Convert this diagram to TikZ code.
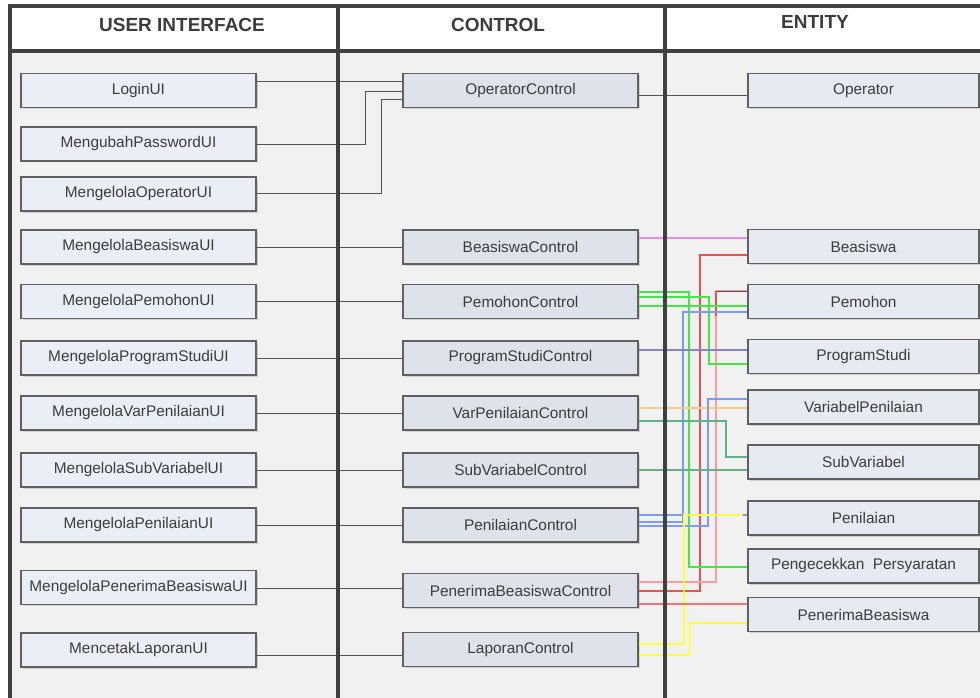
\documentclass[tikz,border=0pt]{standalone}
\usepackage{fontspec}
\setmainfont{Liberation Sans}
\usepackage{tikz}
\usepackage{xcolor}
\usetikzlibrary{shadows}

\definecolor{framegray}{HTML}{404040}
\definecolor{textgray}{HTML}{3C3C3C}
\definecolor{boxedge}{HTML}{606060}
\definecolor{uifill}{HTML}{EAEEF7}
\definecolor{ctrlfill}{HTML}{DEE2EA}
\definecolor{entfill}{HTML}{E6EAF2}
\definecolor{bodygray}{HTML}{F1F1F1}
\definecolor{linkpink}{HTML}{EE88EE}
\definecolor{linkred}{HTML}{EE5050}
\definecolor{linkrose}{HTML}{FF9C9C}
\definecolor{linkgreen}{HTML}{44E844}
\definecolor{linkslate}{HTML}{8484CC}
\definecolor{linkblue}{HTML}{7C9CF0}
\definecolor{linkorange}{HTML}{FFCC88}
\definecolor{linkteal}{HTML}{5CB488}
\definecolor{linkyellow}{HTML}{FFFF40}

\begin{document}
\begin{tikzpicture}[x=1pt,y=-1pt,
  classbox/.style={draw=boxedge, line width=1.1pt, minimum width=235pt, minimum height=34pt, inner sep=0pt,
    text=textgray, font=\fontsize{15.4}{17}\selectfont,
    drop shadow={shadow xshift=1.5pt, shadow yshift=-1.5pt, fill=gray!60, opacity=0.5}},
  uibox/.style={classbox, fill=uifill},
  ctrlbox/.style={classbox, fill=ctrlfill},
  entbox/.style={classbox, fill=entfill, minimum width=231pt},
  colhead/.style={text=textgray, font=\bfseries\fontsize{19}{22}\selectfont},
  link/.style={draw=framegray!90, line width=1pt},
  wire/.style={line width=1.3pt}]
\useasboundingbox (0,0) rectangle (980,698);
\fill[white] (0,0) rectangle (980,698);
\fill[bodygray] (10,51) rectangle (1000,720);

\node[colhead] (hdUI) at (182,25) {USER INTERFACE};
\node[colhead] (hdControl) at (498,25) {CONTROL};
\node[colhead] (hdEntity) at (815,22) {ENTITY};

\node[uibox] (uiLogin) at (138.5,90.5) {LoginUI};
\node[uibox] (uiPassword) at (138.5,144) {MengubahPasswordUI};
\node[uibox] (uiOperator) at (138.5,194) {MengelolaOperatorUI};
\node[uibox] (uiBeasiswa) at (138.5,247) {MengelolaBeasiswaUI};
\node[uibox] (uiPemohon) at (138.5,301.5) {MengelolaPemohonUI};
\node[uibox] (uiProdi) at (138.5,358) {MengelolaProgramStudiUI};
\node[uibox] (uiVar) at (138.5,413) {MengelolaVarPenilaianUI};
\node[uibox] (uiSub) at (138.5,470) {MengelolaSubVariabelUI};
\node[uibox] (uiPenilaian) at (138.5,525) {MengelolaPenilaianUI};
\node[uibox] (uiPenerima) at (138.5,587.5) {MengelolaPenerimaBeasiswaUI};
\node[uibox] (uiLaporan) at (138.5,650) {MencetakLaporanUI};

\node[ctrlbox] (ctlOperator) at (520.5,90.5) {OperatorControl};
\node[ctrlbox] (ctlBeasiswa) at (520.5,247) {BeasiswaControl};
\node[ctrlbox] (ctlPemohon) at (520.5,301.5) {PemohonControl};
\node[ctrlbox] (ctlProdi) at (520.5,358) {ProgramStudiControl};
\node[ctrlbox] (ctlVar) at (520.5,413) {VarPenilaianControl};
\node[ctrlbox] (ctlSub) at (520.5,470) {SubVariabelControl};
\node[ctrlbox] (ctlPenilaian) at (520.5,525) {PenilaianControl};
\node[ctrlbox] (ctlPenerima) at (520.5,590.5) {PenerimaBeasiswaControl};
\node[ctrlbox] (ctlLaporan) at (520.5,649.5) {LaporanControl};

\node[entbox] (entOperator) at (863.5,90.5) {Operator};
\node[entbox] (entBeasiswa) at (863.5,246.5) {Beasiswa};
\node[entbox] (entPemohon) at (863.5,301.5) {Pemohon};
\node[entbox] (entProdi) at (863.5,356.5) {ProgramStudi};
\node[entbox] (entVar) at (863.5,407) {VariabelPenilaian};
\node[entbox] (entSub) at (863.5,462) {SubVariabel};
\node[entbox] (entPenilaian) at (863.5,518) {Penilaian};
\node[entbox] (entCek) at (863.5,566) {Pengecekkan~~Persyaratan};
\node[entbox] (entPenerima) at (863.5,614.5) {PenerimaBeasiswa};

\draw[link] (uiLogin.east |- 0,82) -- (ctlOperator.west |- 0,82);
\draw[link] (uiPassword.east |- 0,145) -- (365,145) |- (ctlOperator.west |- 0,92);
\draw[link] (uiOperator.east |- 0,193) -- (381,193) |- (ctlOperator.west |- 0,100);
\draw[link] (uiBeasiswa) -- (ctlBeasiswa);
\draw[link] (uiPemohon) -- (ctlPemohon);
\draw[link] (uiProdi) -- (ctlProdi);
\draw[link] (uiVar) -- (ctlVar);
\draw[link] (uiSub) -- (ctlSub);
\draw[link] (uiPenilaian) -- (ctlPenilaian);
\draw[link] (uiPenerima.east |- 0,588) -- (ctlPenerima.west |- 0,588);
\draw[link] (uiLaporan.east |- 0,655) -- (ctlLaporan.west |- 0,655);
\draw[link] (ctlOperator.east |- 0,96) -- (entOperator.west |- 0,96);

\draw[wire, linkpink] (ctlBeasiswa.east |- 0,238) -- (entBeasiswa.west |- 0,238);
\draw[wire, linkred] (entBeasiswa.west |- 0,255) -| (700,591) -- (ctlPenerima.east |- 0,591);
\draw[wire, linkrose] (entPemohon.west |- 0,291) -| (716,582) -- (ctlPenerima.east |- 0,582);
\draw[link] (entPemohon.west |- 0,291) -- (716,291);
\draw[wire, linkred] (716,291) -- (716,316);
\draw[wire, linkgreen] (ctlPemohon.east |- 0,292) -| (689,567) -- (entCek.west |- 0,567);
\draw[wire, linkgreen] (ctlPemohon.east |- 0,297) -| (709,364) -- (entProdi.west |- 0,364);
\draw[wire, linkgreen] (ctlPemohon.east |- 0,306) -- (entPemohon.west |- 0,306);
\draw[wire, linkblue] (ctlPenilaian.east |- 0,522) -| (683,312) -- (entPemohon.west |- 0,312);
\draw[wire, linkslate] (ctlProdi.east |- 0,350) -- (entProdi.west |- 0,350);
\draw[wire, linkorange] (ctlVar.east |- 0,408) -- (entVar.west |- 0,408);
\draw[wire, linkblue] (ctlPenilaian.east |- 0,526) -| (708,399) -- (entVar.west |- 0,399);
\draw[wire, linkteal] (ctlVar.east |- 0,421) -| (726,457) -- (entSub.west |- 0,457);
\draw[wire, linkteal] (ctlSub.east |- 0,470) -- (entSub.west |- 0,470);
\draw[wire, linkblue] (ctlPenilaian.east |- 0,515) -- (entPenilaian.west |- 0,515);
\draw[wire, linkyellow] (ctlLaporan.east |- 0,644) -| (684,515) -- (743,515);
\draw[wire, linkred!80] (ctlPenerima.east |- 0,604) -- (entPenerima.west |- 0,604);
\draw[wire, linkyellow] (ctlLaporan.east |- 0,655) -| (690,623) -- (entPenerima.west |- 0,623);

\draw[framegray, line width=4pt] (10,6) rectangle (1000,720);
\draw[framegray, line width=3.5pt] (10,51) -- (1000,51);
\draw[framegray, line width=4pt] (338,6) -- (338,720);
\draw[framegray, line width=4pt] (665,6) -- (665,720);
\end{tikzpicture}
\end{document}
